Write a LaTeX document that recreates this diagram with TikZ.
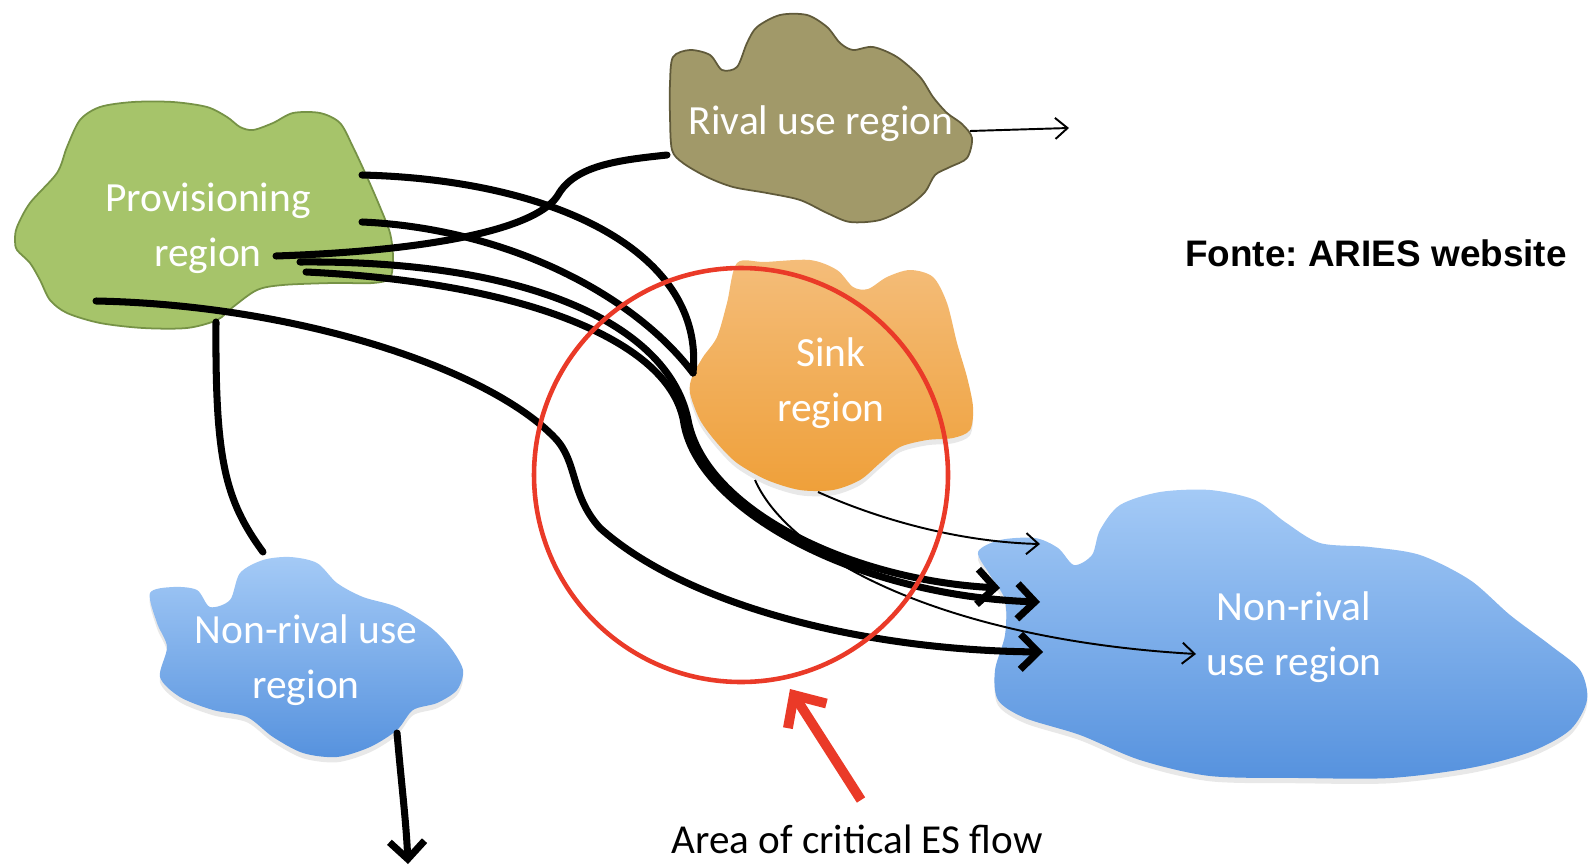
\documentclass[tikz,border=0pt]{standalone}
\usepackage{fontspec}
\setmainfont{Carlito}
\newfontfamily\fontefont{Liberation Sans}
\usetikzlibrary{arrows.meta}
\usetikzlibrary{shadows}
\definecolor{provgreen}{RGB}{166,196,106}
\definecolor{provedge}{RGB}{118,146,70}
\definecolor{rivalbrown}{RGB}{161,153,105}
\definecolor{rivaledge}{RGB}{96,90,58}
\definecolor{sinktop}{RGB}{244,189,122}
\definecolor{sinkbot}{RGB}{239,160,58}
\definecolor{usetop}{RGB}{164,202,246}
\definecolor{usebot}{RGB}{86,146,222}
\definecolor{critred}{RGB}{234,58,40}
\frenchspacing

\begin{document}
\begin{tikzpicture}[x=0.01cm,y=-0.01cm,
    lbl/.style={text=white,align=center,font=\fontsize{11.8}{15.6}\selectfont},
    flow/.style={line width=2pt,line cap=round},
    thinflow/.style={line width=0.55pt},
    bigtip/.style={-{Straight Barb[length=5pt,width=10pt]}},
    smalltip/.style={-{Straight Barb[length=3.5pt,width=6pt]}},
    soft/.style={drop shadow={opacity=0.18,shadow xshift=0pt,shadow yshift=-1.5pt}}]
\useasboundingbox (0,0) rectangle (1589,867);
% regions
\path[fill=provgreen,draw=provedge,line width=0.5pt] plot[smooth cycle] coordinates {
    (15,240) (17,227) (30,203) (57,173) (67,147) (80,120) (100,107) (133,102)
    (173,102) (207,107) (227,117) (240,127) (253,130) (273,123) (293,113) (320,113)
    (340,123) (353,147) (367,177) (380,207) (390,233) (393,257) (390,278) (373,283)
    (333,283) (283,285) (257,290) (233,307) (217,320) (187,328) (143,328) (100,323)
    (67,313) (50,300) (40,280) (30,263) (17,250)};
\path[fill=rivalbrown,draw=rivaledge,line width=0.5pt] plot[smooth cycle] coordinates {
    (673,57) (690,50) (710,55) (722,70) (737,67) (747,43) (757,27) (780,15)
    (807,15) (827,27) (840,43) (853,50) (873,47) (897,57) (920,77) (933,97)
    (947,113) (962,124) (972,138) (967,158) (950,167) (935,175) (925,192) (907,207)
    (880,220) (850,222) (827,213) (800,200) (767,193) (733,187) (707,177) (683,163)
    (672,150) (670,117) (670,83)};
\path[soft,top color=sinktop,bottom color=sinkbot] plot[smooth cycle] coordinates {
    (737,263) (765,262) (810,260) (837,270) (853,287) (868,289) (887,277) (910,270)
    (933,277) (947,303) (957,343) (967,377) (973,407) (970,430) (953,438) (927,440)
    (900,447) (880,463) (860,480) (833,490) (800,490) (767,480) (737,463) (717,443)
    (700,420) (690,393) (692,377) (703,357) (717,337) (727,303)};
\path[soft,top color=usetop,bottom color=usebot] plot[smooth cycle] coordinates {
    (150,593) (173,587) (197,590) (210,607) (230,600) (240,573) (263,560) (290,557)
    (317,563) (337,583) (363,597) (397,607) (430,627) (450,647) (463,670) (457,690)
    (437,703) (413,710) (397,730) (370,747) (337,757) (303,753) (273,737) (247,717)
    (213,710) (180,697) (160,677) (167,647) (157,623)};
\path[soft,top color=usetop,bottom color=usebot] plot[smooth cycle] coordinates {
    (978,552) (1000,540) (1035,538) (1058,548) (1074,565) (1092,555) (1100,530) (1120,505)
    (1160,492) (1210,490) (1255,500) (1285,522) (1320,543) (1370,547) (1420,555) (1470,580)
    (1510,615) (1550,645) (1580,670) (1587,700) (1570,730) (1530,752) (1470,768) (1390,778)
    (1300,778) (1210,776) (1140,760) (1080,735) (1025,718) (998,700) (995,670) (1005,635)
    (1005,600) (990,575)};
% labels
\node[lbl] (prov) at (208,228) {Provisioning\\region};
\node[lbl] (rival) at (821,124) {Rival use region};
\node[lbl] (sink) at (831,383) {Sink\\region};
\node[lbl] (nrbig) at (1294,637) {Non-rival\\use region};
\node[lbl] (nrsmall) at (306,660) {Non-rival use\\region};
% ends of the flows
\coordinate (p-top) at (362,175);
\coordinate (p-mid) at (362,222);
\coordinate (p-riv) at (276,256);
\coordinate (p-a) at (300,262);
\coordinate (p-b) at (306,272);
\coordinate (p-low) at (96,301);
\coordinate (p-down) at (216,322);
\coordinate (sink-in) at (693,373);
\coordinate (riv-in) at (667,155);
\coordinate (riv-out) at (970,131);
\coordinate (riv-end) at (1069,128);
\coordinate (sink-o1) at (818,492);
\coordinate (sink-o2) at (755,480);
\coordinate (nr-t1) at (1040,544);
\coordinate (nr-a) at (1000,588);
\coordinate (nr-b) at (1040,602);
\coordinate (nr-t2) at (1196,654);
\coordinate (nr-c) at (1043,652);
\coordinate (nrs-in) at (263,552);
\coordinate (nrs-out) at (397,733);
\coordinate (nrs-end) at (408,864);
\coordinate (crit-tail) at (861,800);
\coordinate (crit-tip) at (790,689);
% flows
\draw[flow] (p-top) .. controls (560,180) and (705,255) .. (sink-in);
\draw[flow] (p-mid) .. controls (500,228) and (630,290) .. (sink-in);
\draw[flow] (p-riv) .. controls (450,250) and (540,225) .. (558,195)
    .. controls (575,165) and (620,160) .. (riv-in);
\draw[flow,bigtip] (p-a) .. controls (540,260) and (670,330) .. (688,420)
    .. controls (705,510) and (850,580) .. (nr-a);
\draw[flow,bigtip] (p-b) .. controls (520,282) and (672,340) .. (684,424)
    .. controls (700,512) and (860,596) .. (nr-b);
\draw[flow,bigtip] (p-low) .. controls (300,305) and (490,370) .. (555,438)
    .. controls (578,462) and (570,495) .. (600,528)
    .. controls (680,600) and (850,650) .. (nr-c);
\draw[flow] (p-down) .. controls (215,460) and (225,500) .. (nrs-in);
\draw[flow,bigtip] (nrs-out) .. controls (402,790) and (406,820) .. (nrs-end);
\draw[thinflow,smalltip] (riv-out) -- (riv-end);
\draw[thinflow,smalltip] (sink-o1) .. controls (880,520) and (960,542) .. (nr-t1);
\draw[thinflow,smalltip] (sink-o2) .. controls (790,560) and (950,640) .. (nr-t2);
% critical area
\draw[critred,line width=1.3pt] (741,475) circle (207);
\draw[critred,line width=2.8pt,-{Straight Barb[length=7pt,width=13pt]}] (crit-tail) -- (crit-tip);
\node (area) at (857,839) {\fontsize{11.7}{14}\selectfont Area of critical ES flow};
\node[font=\fontefont\bfseries\fontsize{10.5}{12}\selectfont] (fonte) at (1376,253) {Fonte: ARIES website};
\end{tikzpicture}
\end{document}
